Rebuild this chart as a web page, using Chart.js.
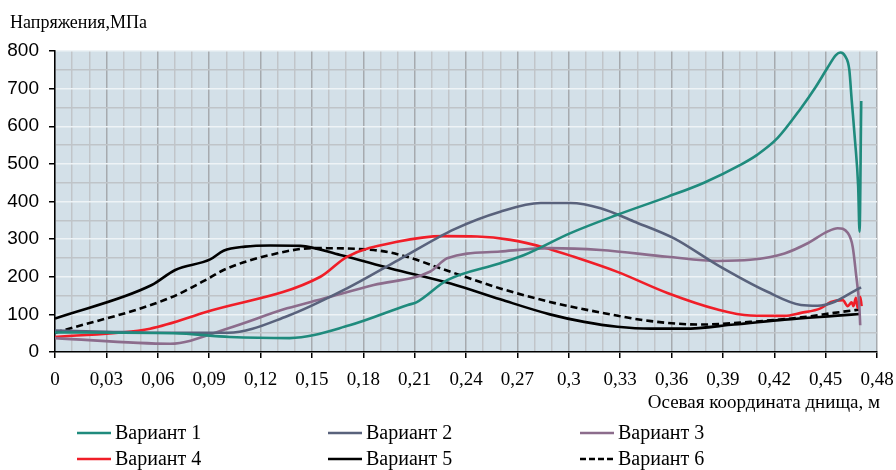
<!DOCTYPE html>
<html>
<head>
<meta charset="utf-8">
<script src="https://cdn.jsdelivr.net/npm/chart.js@4.4.1/dist/chart.umd.min.js"></script>
<style>
  html, body { margin: 0; padding: 0; background: #fff; }
  #wrap { position: relative; width: 896px; height: 470px; }
</style>
</head>
<body>
<div id="wrap"><canvas id="c" width="896" height="470"></canvas></div>
<script>
// Axis titles and series names
const yTitle = 'Напряжения,МПа';
const xTitle = 'Осевая координата днища, м';
const seriesNames = ['Вариант 1', 'Вариант 2', 'Вариант 3', 'Вариант 4', 'Вариант 5', 'Вариант 6'];

// Axis ranges and tick steps
const xMin = 0, xMax = 0.48, xStep = 0.01, xLabelEvery = 3;
const yMin = 0, yMax = 800, yStep = 50, yLabelEvery = 100;

// Variant 1
const v1X = [0, 0.069, 0.102, 0.137, 0.172, 0.206, 0.211, 0.229, 0.26, 0.274, 0.301, 0.328, 0.358, 0.379, 0.4005, 0.41, 0.422, 0.4356, 0.444, 0.4512, 0.456, 0.4586, 0.4613, 0.4638, 0.4652, 0.4672, 0.469, 0.4698, 0.4708];
const v1Y = [52, 50, 40, 37, 71, 125, 132, 191, 236, 258, 316, 364, 413, 450, 498, 524, 569, 648, 703, 756, 789, 796, 787, 751, 671, 560, 440, 320, 667];

// Variant 2
const v2X = [0, 0.03, 0.06, 0.101, 0.1355, 0.1705, 0.2007, 0.233, 0.26, 0.2836, 0.301, 0.3186, 0.338, 0.3615, 0.3869, 0.416, 0.4356, 0.4453, 0.455, 0.4648, 0.4707];
const v2Y = [57, 54, 51, 51, 95, 169, 245, 326, 373, 396, 396, 382, 347, 302, 231, 160, 125, 123, 133, 157, 172];

// Variant 3
const v3X = [0, 0.0672, 0.1004, 0.1355, 0.1569, 0.1861, 0.2192, 0.229, 0.26, 0.289, 0.3186, 0.3576, 0.3869, 0.406, 0.426, 0.4395, 0.451, 0.457, 0.463, 0.4658, 0.4677, 0.4697, 0.4702];
const v3Y = [37, 22, 62, 116, 142, 178, 214, 249, 267, 276, 271, 253, 242, 245, 262, 289, 320, 329, 316, 280, 209, 120, 71];

// Variant 4
const v4X = [0, 0.0555, 0.0887, 0.155, 0.1705, 0.1998, 0.227, 0.2465, 0.266, 0.2855, 0.303, 0.3284, 0.3576, 0.3869, 0.406, 0.426, 0.4356, 0.447, 0.4531, 0.46, 0.4629, 0.4652, 0.4662, 0.4677, 0.4687, 0.4702, 0.471];
const v4Y = [40, 62, 107, 200, 253, 293, 308, 307, 298, 278, 253, 213, 157, 113, 97, 96, 104, 116, 133, 138, 122, 132, 122, 144, 117, 147, 122];

// Variant 5
const v5X = [0, 0.0565, 0.0702, 0.0906, 0.0984, 0.111, 0.1257, 0.1432, 0.1666, 0.1959, 0.231, 0.26, 0.289, 0.309, 0.3284, 0.348, 0.3674, 0.3966, 0.426, 0.455, 0.47];
const v5Y = [89, 178, 218, 246, 269, 280, 283, 282, 258, 222, 182, 140, 100, 80, 67, 62, 62, 73, 86, 96, 101];

// Variant 6
const v6X = [0, 0.0672, 0.0906, 0.0984, 0.1276, 0.151, 0.1861, 0.2017, 0.231, 0.26, 0.289, 0.3186, 0.348, 0.377, 0.406, 0.4356, 0.455, 0.47];
const v6Y = [51, 144, 198, 218, 260, 276, 271, 258, 213, 169, 133, 105, 82, 73, 80, 92, 104, 113];

const seriesX = [v1X, v2X, v3X, v4X, v5X, v6X];
const seriesY = [v1Y, v2Y, v3Y, v4Y, v5Y, v6Y];
const seriesColors = ['#1f8b7d', '#59627c', '#8c6c8c', '#f01e28', '#000000', '#000000'];
const seriesDash = [[], [], [], [], [], [7, 4]];

const toPoints = (xs, ys) => xs.map((x, i) => ({ x: x, y: ys[i] }));

const datasets = seriesNames.map((name, i) => ({
  label: name,
  data: toPoints(seriesX[i], seriesY[i]),
  borderColor: seriesColors[i],
  backgroundColor: seriesColors[i],
  borderWidth: 2.6,
  borderDash: seriesDash[i],
  pointRadius: 0,
  showLine: true,
  fill: false,
  cubicInterpolationMode: 'monotone'
}));

// Plot area fill
const plotBackground = {
  id: 'plotBackground',
  beforeDraw(chart) {
    const { ctx, chartArea: a } = chart;
    ctx.save();
    ctx.fillStyle = '#d3e0e8';
    ctx.fillRect(a.left, a.top, a.right - a.left, a.bottom - a.top);
    ctx.restore();
  }
};

// Axis titles: units label above the value axis, coordinate label under the category axis
const axisTitles = {
  id: 'axisTitles',
  afterDraw(chart) {
    const { ctx, chartArea: a } = chart;
    ctx.save();
    ctx.fillStyle = '#000';
    ctx.font = '18px "Liberation Serif"';
    ctx.textBaseline = 'middle';
    ctx.textAlign = 'left';
    ctx.fillText(yTitle, 10, 23);
    ctx.font = '19px "Liberation Serif"';
    ctx.textAlign = 'right';
    ctx.fillText(xTitle, a.right + 3, 403);
    ctx.restore();
  }
};

// Legend in three columns, two rows
const legendCols = [77, 328, 580];
const legendRows = [433, 459];
const gridLegend = {
  id: 'gridLegend',
  afterDraw(chart) {
    const { ctx } = chart;
    ctx.save();
    ctx.font = '20px "Liberation Serif"';
    ctx.textBaseline = 'middle';
    ctx.textAlign = 'left';
    chart.data.datasets.forEach((ds, i) => {
      const x = legendCols[i % 3];
      const y = legendRows[Math.floor(i / 3)];
      ctx.strokeStyle = ds.borderColor;
      ctx.lineWidth = 2.6;
      ctx.setLineDash(ds.borderDash && ds.borderDash.length ? [6, 3] : []);
      ctx.beginPath();
      ctx.moveTo(x, y);
      ctx.lineTo(x + 34, y);
      ctx.stroke();
      ctx.setLineDash([]);
      ctx.fillStyle = '#000';
      ctx.fillText(ds.label, x + 38, y + 1);
    });
    ctx.restore();
  }
};

const isMajorX = v => Math.round(v * 100) % (xLabelEvery) === 0;
const isMajorY = v => Math.round(v) % yLabelEvery === 0;

// Decimal-comma label without trailing zeros: 0,03 … 0,3 … 0,48
const fmtX = v => {
  const s = String(+v.toFixed(2));
  return s.replace('.', ',');
};

new Chart(document.getElementById('c'), {
  type: 'scatter',
  data: { datasets: datasets },
  options: {
    responsive: false,
    devicePixelRatio: 1,
    animation: false,
    layout: { padding: { left: 0, top: 51, right: 19, bottom: 0 } },
    plugins: {
      legend: { display: false },
      tooltip: { enabled: false },
      title: { display: false }
    },
    scales: {
      x: {
        type: 'linear',
        min: xMin,
        max: xMax,
        afterFit: s => { s.height = 118; s.paddingLeft = 0; s.paddingRight = 0; },
        afterBuildTicks: s => {
          const t = [];
          for (let k = 0; k <= Math.round((xMax - xMin) / xStep); k++) t.push({ value: +(xMin + k * xStep).toFixed(2) });
          s.ticks = t;
        },
        ticks: {
          autoSkip: false,
          maxRotation: 0,
          padding: 11,
          color: '#000',
          font: { family: '"Liberation Serif"', size: 19 },
          callback: v => isMajorX(v) ? fmtX(v) : ''
        },
        grid: {
          lineWidth: 1.5,
          tickLength: 6,
          color: c => isMajorX(c.tick.value) ? '#a6aaae' : '#c1c5c9',
          tickColor: c => isMajorX(c.tick.value) ? '#000' : 'rgba(0,0,0,0)'
        },
        border: { color: '#000', width: 1.5 }
      },
      y: {
        min: yMin,
        max: yMax,
        afterFit: s => { s.width = 55; },
        ticks: {
          stepSize: yStep,
          autoSkip: false,
          padding: 10,
          color: '#000',
          font: { family: '"Liberation Sans"', size: 19 },
          callback: v => isMajorY(v) ? String(v) : ''
        },
        grid: {
          lineWidth: 1.5,
          tickLength: 6,
          color: c => isMajorY(c.tick.value) ? '#eef3f6' : '#bfc4c8',
          tickColor: c => isMajorY(c.tick.value) ? '#000' : 'rgba(0,0,0,0)'
        },
        border: { color: '#000', width: 1.5 }
      }
    }
  },
  plugins: [plotBackground, axisTitles, gridLegend]
});
</script>
</body>
</html>
